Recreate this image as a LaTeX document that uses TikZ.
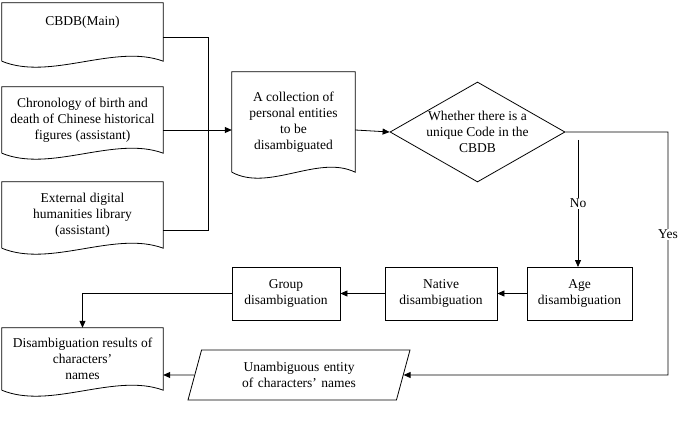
\documentclass[tikz,border=0pt]{standalone}
\usepackage{fontspec}
\setmainfont{Liberation Serif}
\usetikzlibrary{shapes,arrows.meta,calc}

\begin{document}
\begin{tikzpicture} [x=1pt,y=-1pt,
  every node/.style={font=\fontsize{13.5}{16}\selectfont,align=center,inner sep=2pt},
  box/.style={draw,thick,minimum height=53pt},
  doc/.style={minimum width=161pt},
  link/.style={thick,-{Triangle[length=7pt,width=6pt]}}]
\useasboundingbox (0,0) rectangle (685,425);

% document shaped nodes, outline drawn below
\node[doc,minimum height=58pt] (cbdb) at (82.5,32) {};
\node at (82.5,22) {CBDB(Main)};
\node[doc,minimum height=66pt] (chron) at (82.5,120) {Chronology of birth and\\death of Chinese historical\\figures (assistant)};
\node[doc,minimum height=66pt] (ext) at (82.5,215) {External digital\\humanities library\\(assistant)};
\node[minimum width=123pt,minimum height=100pt] (coll) at (293.5,122) {A collection of\\personal entities\\to be\\disambiguated};
\node[doc,minimum height=62pt] (res) at (82.5,359) {Disambiguation results of\\characters'\\names};
\foreach \n in {cbdb,chron,ext,coll,res}{%
  \draw[thick] (\n.south west) -- (\n.north west) -- (\n.north east) -- (\n.south east)
    .. controls ($(\n.south east)!0.3!(\n.south west)+(0,-18)$) and ($(\n.south east)!0.7!(\n.south west)+(0,20)$) .. (\n.south west);}

\node[draw,thick,diamond,aspect=1.75,inner sep=0pt,minimum width=171pt,minimum height=100pt] (code) at (477.5,132) {Whether there is a\\unique Code in the\\CBDB};
\node[box,minimum width=105pt] (age) at (579.5,293.5) {Age\\disambiguation};
\node[box,minimum width=112pt] (native) at (441,293.5) {Native\\disambiguation};
\node[box,minimum width=108pt] (group) at (286,293.5) {Group\\disambiguation};
\node[draw,thick,trapezium,trapezium left angle=62,trapezium right angle=118,trapezium stretches body,text width=170pt,minimum width=222pt,minimum height=50pt,inner sep=0pt] (unamb) at (299,375) {Unambiguous entity\\of characters' names};

\coordinate (j) at (208,130);
\draw[thick] (163,37) -- (208,37) -- (208,230) -- (163,230);
\draw[thick] (163,130) -- (j);
\draw[link] (j) -- (coll.west |- j);
\draw[link] (coll.east |- j) -- (code.west);
\draw[link] (578,140) -- node[fill=white,inner sep=1pt] {No} (578,267);
\draw[link] (code.east) -- (668,132) -- node[pos=0.42,fill=white,inner sep=1pt] {Yes} (668,375) -- (unamb.east);
\draw[link] (age) -- (native);
\draw[link] (native) -- (group);
\draw[link] (group.west) -| (res.north);
\draw[link] (unamb) -- (res.east |- unamb);
\end{tikzpicture}
\end{document}
